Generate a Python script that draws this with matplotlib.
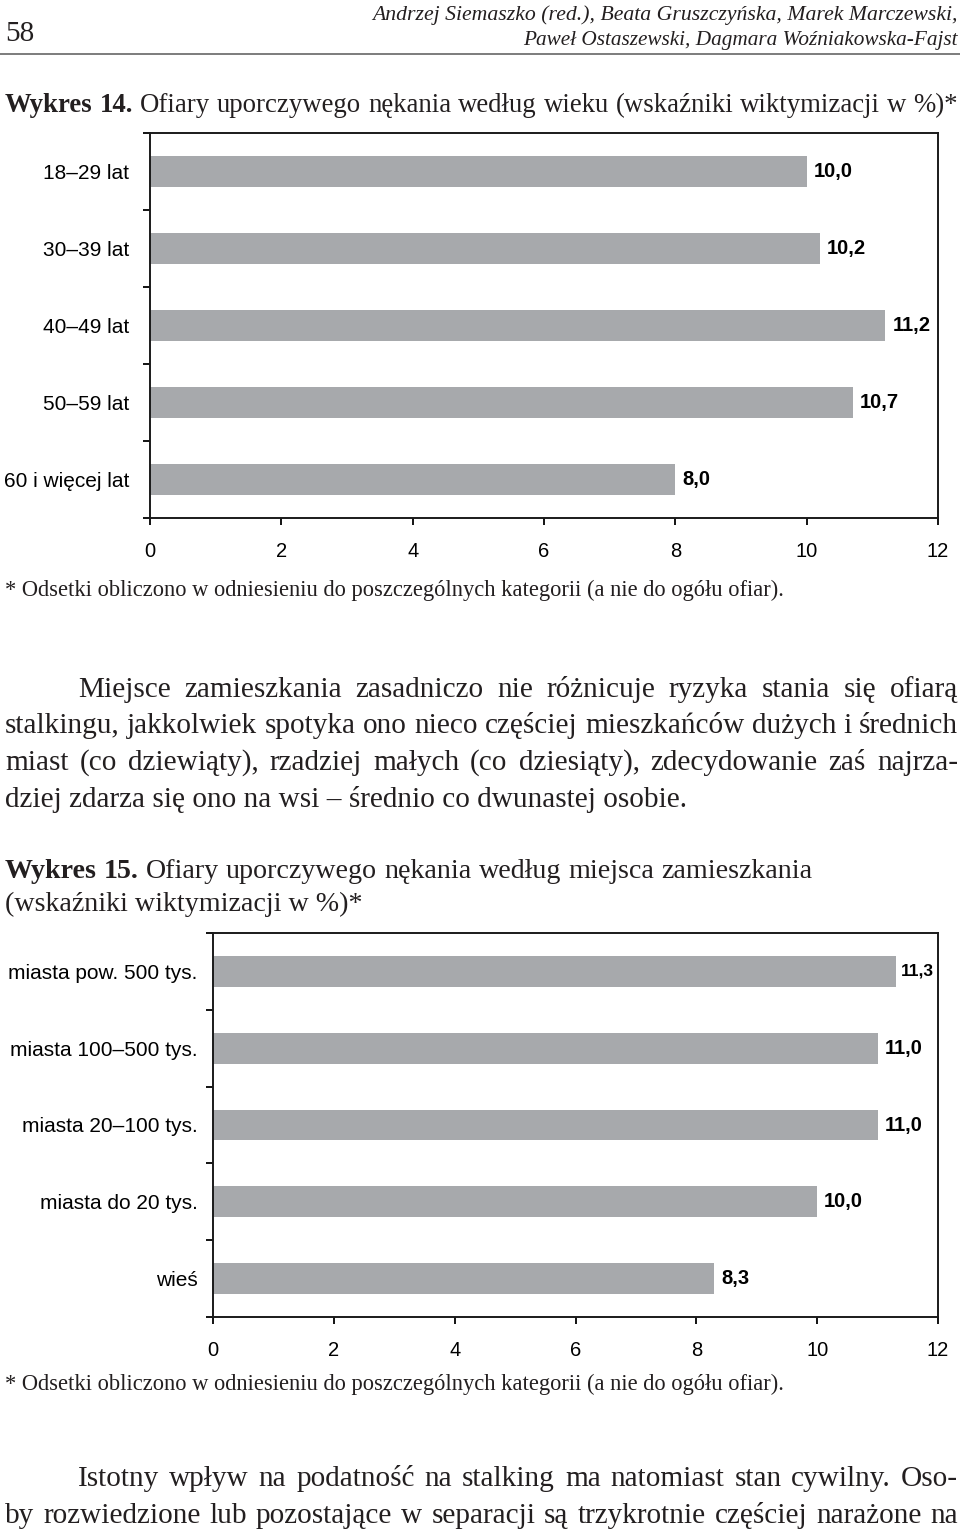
import matplotlib
matplotlib.use('Agg')
import matplotlib.pyplot as plt
import numpy as np

# ---------------- data ----------------
cats1 = ['18–29 lat', '30–39 lat', '40–49 lat', '50–59 lat', '60 i więcej lat']
vals1 = [10.0, 10.2, 11.2, 10.7, 8.0]
cats2 = ['miasta pow. 500 tys.', 'miasta 100–500 tys.', 'miasta 20–100 tys.',
         'miasta do 20 tys.', 'wieś']
vals2 = [11.3, 11.0, 11.0, 10.0, 8.3]
xticks = [0, 2, 4, 6, 8, 10, 12]

SERIF = 'Liberation Serif'
SANS = 'Liberation Sans'
INK = '#231f20'
BAR = '#a7a9ac'

W, H = 960, 1533
fig = plt.figure(figsize=(9.6, 15.33), dpi=100)
bg = fig.add_axes([0, 0, 1, 1], zorder=-1)
bg.set_xlim(0, W)
bg.set_ylim(H, 0)
bg.axis('off')
renderer = fig.canvas.get_renderer()


def text_width(s, **kw):
    t = bg.text(0, 0, s, **kw)
    w = t.get_window_extent(renderer).width
    t.remove()
    return w


def fit_text(x, y, s, width, size, ha='left', **kw):
    w = text_width(s, fontsize=size, **kw)
    fs = size * width / w
    bg.text(x, y, s, fontsize=fs, ha=ha, va='baseline', color=INK, **kw)
    return fs


def words_of(s, bold_first=0):
    ws = s.split(' ')
    return [(w, 'bold' if i < bold_first else 'normal') for i, w in enumerate(ws)]


def natural_size(words, width, family=SERIF, ref=20):
    tot = sum(text_width(w, fontsize=ref, family=family, fontweight=wt) for w, wt in words)
    sp = text_width('a a', fontsize=ref, family=family) - text_width('aa', fontsize=ref, family=family)
    tot += sp * (len(words) - 1)
    return ref * width / tot


def justify(words, x0, x1, y, size, family=SERIF):
    widths = [text_width(w, fontsize=size, family=family, fontweight=wt) for w, wt in words]
    gap = (x1 - x0 - sum(widths)) / (len(words) - 1)
    x = x0
    for (w, wt), wd in zip(words, widths):
        bg.text(x, y, w, fontsize=size, family=family, fontweight=wt,
                ha='left', va='baseline', color=INK)
        x += wd + gap


# ---------------- page header ----------------
bg.text(5, 41, '58', fontsize=21, family=SERIF, ha='left', va='baseline', color=INK)
fit_text(958, 20, 'Andrzej Siemaszko (red.), Beata Gruszczyńska, Marek Marczewski,',
         586, 15, ha='right', family=SERIF, fontstyle='italic')
fit_text(958, 45, 'Paweł Ostaszewski, Dagmara Woźniakowska-Fajst',
         436, 15, ha='right', family=SERIF, fontstyle='italic')
bg.plot([0, W], [54, 54], color='#666666', lw=1.2)

# ---------------- paragraph text definitions ----------------
title14 = words_of('Wykres 14. Ofiary uporczywego nękania według wieku (wskaźniki wiktymizacji w %)*', 2)
par1 = [(words_of('Miejsce zamieszkania zasadniczo nie różnicuje ryzyka stania się ofiarą'), 78, 697),
        (words_of('stalkingu, jakkolwiek spotyka ono nieco częściej mieszkańców dużych i średnich'), 5, 733),
        (words_of('miast (co dziewiąty), rzadziej małych (co dziesiąty), zdecydowanie zaś najrza-'), 5, 770)]
par2 = [(words_of('Istotny wpływ na podatność na stalking ma natomiast stan cywilny. Oso-'), 78, 1486),
        (words_of('by rozwiedzione lub pozostające w separacji są trzykrotnie częściej narażone na'), 5, 1523)]
title15a = words_of('Wykres 15. Ofiary uporczywego nękania według miejsca zamieszkania', 2)

BODY = min(natural_size(w, 958 - x0) for w, x0, _ in par1 + par2)

t14 = natural_size(title14, 953)
justify(title14, 5, 958, 112, t14)

for w, x0, y in par1 + par2:
    justify(w, x0, 958, y, BODY)
bg.text(5, 807, 'dziej zdarza się ono na wsi – średnio co dwunastej osobie.', fontsize=BODY,
        family=SERIF, ha='left', va='baseline', color=INK)

t15 = natural_size(title15a, 807)
justify(title15a, 5, 812, 878, t15)
bg.text(5, 911, '(wskaźniki wiktymizacji w %)*', fontsize=t15, family=SERIF,
        ha='left', va='baseline', color=INK)


# ---------------- charts ----------------
def chart(box, cats, vals, ylab_pad):
    l, r, t, b = box
    ax = fig.add_axes([l / W, 1 - b / H, (r - l) / W, (b - t) / H])
    n = len(cats)
    ax.barh(np.arange(n), vals, height=0.4, color=BAR, zorder=2)
    ax.set_xlim(0, 12)
    ax.set_ylim(n - 0.5, -0.5)
    ax.set_xticks(xticks)
    ax.set_xticklabels([str(v) for v in xticks], fontsize=14.5, family=SANS)
    ax.set_yticks(np.arange(n))
    ax.set_yticklabels(cats, fontsize=15, family=SANS)
    ax.set_yticks(np.arange(-0.5, n), minor=True)
    ax.tick_params(axis='y', which='major', length=0, pad=ylab_pad)
    ax.tick_params(axis='y', which='minor', length=5, width=1.3, direction='out')
    ax.tick_params(axis='x', which='major', length=5, width=1.3, direction='out', pad=12)
    for sp in ax.spines.values():
        sp.set_linewidth(1.4)
        sp.set_color('#1a1a1a')
    for i, v in enumerate(vals):
        tight = v > 11.25  # label squeezed against the frame, as in the original
        ax.annotate(f'{v:.1f}'.replace('.', ','), (v, i), xytext=(4 if tight else 5, 0),
                    textcoords='offset points', va='center', ha='left',
                    fontsize=12.5 if tight else 14.5,
                    fontweight='bold', family=SANS)
    return ax


chart((150, 938, 133, 518), cats1, vals1, 15)
fit_text(5, 596, '* Odsetki obliczono w odniesieniu do poszczególnych kategorii (a nie do ogółu ofiar).',
         775, 13, family=SERIF)

chart((213, 938, 933, 1317), cats2, vals2, 11)
fit_text(5, 1390, '* Odsetki obliczono w odniesieniu do poszczególnych kategorii (a nie do ogółu ofiar).',
         775, 13, family=SERIF)

fig.savefig('out.png', dpi=100)
